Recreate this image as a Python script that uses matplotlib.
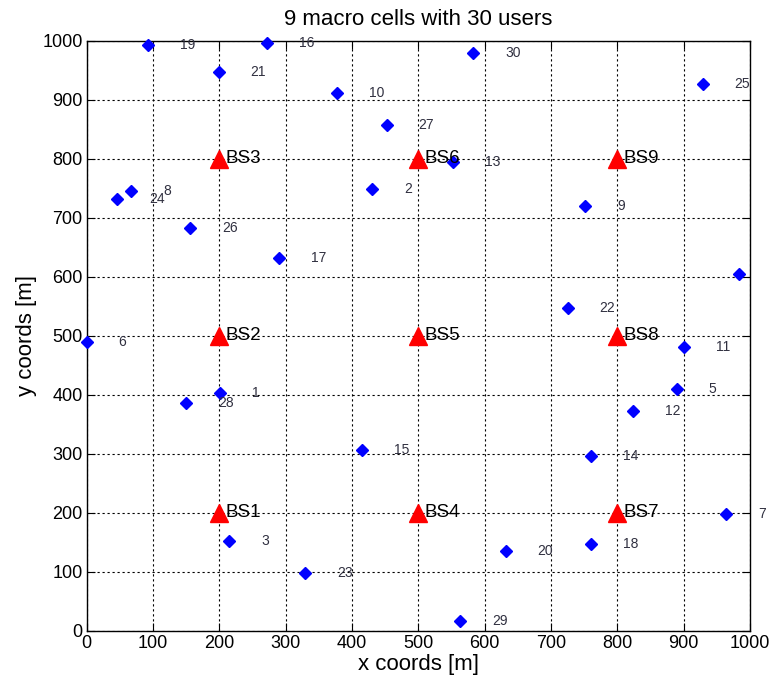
import matplotlib
matplotlib.use("Agg")
import matplotlib.pyplot as plt

plt.rcParams["font.family"] = ["Liberation Sans", "DejaVu Sans"]

# Base stations
bs_x = [200, 200, 200, 500, 500, 500, 800, 800, 800]
bs_y = [200, 500, 800, 200, 500, 800, 200, 500, 800]
bs_labels = ["BS1", "BS2", "BS3", "BS4", "BS5", "BS6", "BS7", "BS8", "BS9"]

# Users (1..30)
user_x = [201, 430, 215, 984, 890, 0, 964, 67, 752, 377,
          900, 824, 552, 760, 415, 272, 290, 760, 92, 632,
          199, 725, 329, 46, 929, 156, 452, 150, 563, 583]
user_y = [404, 749, 152, 605, 410, 489, 198, 746, 720, 911,
          481, 373, 795, 296, 307, 996, 632, 147, 992, 136,
          947, 548, 98, 732, 927, 682, 858, 386, 17, 979]
user_labels = [str(i) for i in range(1, 31)]

fig = plt.figure(figsize=(7.72, 6.84), dpi=100)
ax = fig.add_axes([0.1123, 0.0775, 0.8592, 0.863])

ax.plot(user_x, user_y, linestyle="none", marker="D", color="blue",
        markersize=6.5, zorder=3, clip_on=False)
for x, y, t in zip(user_x, user_y, user_labels):
    if x + 50 > 1030:
        continue  # falls outside the figure, as in the reference
    ax.text(x + 48, y, t, fontsize=10, color="#303040", va="center",
            ha="left", clip_on=False, zorder=4)

ax.plot(bs_x, bs_y, linestyle="none", marker="^", color="red",
        markersize=12.5, zorder=5)
for x, y, t in zip(bs_x, bs_y, bs_labels):
    ax.text(x + 10, y, t, fontsize=13.5, color="black", va="center",
            ha="left", zorder=6)

ax.set_xlim(0, 1000)
ax.set_ylim(0, 1000)
ax.set_xticks(range(0, 1001, 100))
ax.set_yticks(range(0, 1001, 100))
ax.tick_params(direction="in", top=True, right=True, labelsize=13, length=6, pad=3)
ax.grid(True, color="black", linestyle=(0, (2, 2.5)), linewidth=0.8)
ax.set_axisbelow(True)
ax.set_title("9 macro cells with 30 users", fontsize=16, pad=11)
ax.set_xlabel("x coords [m]", fontsize=16, labelpad=1)
ax.set_ylabel("y coords [m]", fontsize=16, labelpad=4)
for s in ax.spines.values():
    s.set_linewidth(1.0)

fig.savefig("out.png", dpi=100)
